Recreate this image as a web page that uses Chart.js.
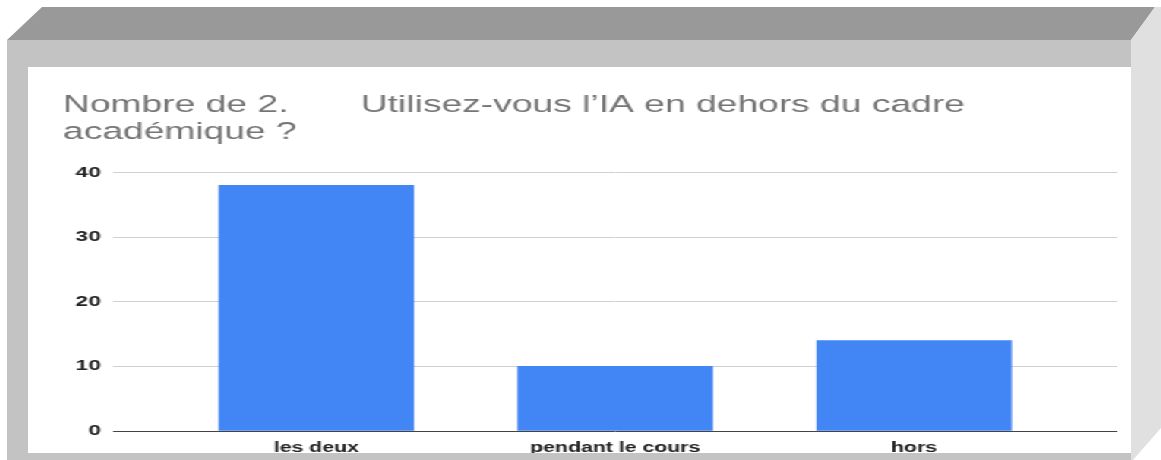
<!DOCTYPE html>
<html>
<head>
<meta charset="utf-8">
<script src="https://cdn.jsdelivr.net/npm/chart.js@4.4.1/dist/chart.umd.min.js"></script>
<style>
  html, body { margin: 0; padding: 0; background: #ffffff; width: 1161px; height: 460px; overflow: hidden; position: relative; }
  .shape { position: absolute; }
  #topDark { left: 0; top: 0; width: 1161px; height: 460px; background: #999999;
    clip-path: polygon(42px 7px, 1155px 7px, 1131px 40px, 7px 40px); }
  #rightSide { left: 0; top: 0; width: 1161px; height: 460px; background: #e0e0e0;
    clip-path: polygon(1155px 7px, 1161px 7px, 1161px 428px, 1133px 460px, 1131px 460px, 1131px 40px); }
  #topMid { left: 7px; top: 40px; width: 1124px; height: 27px; background: #c3c3c3; }
  #leftMid { left: 7px; top: 40px; width: 21px; height: 420px; background: #c3c3c3; }
  #bottomMid { left: 7px; top: 453px; width: 1124px; height: 7px; background: #c3c3c3; z-index: 5; }
  #chartBox { position: absolute; left: 28px; top: 67px; width: 726px; height: 393px;
    transform: scaleX(1.5193); transform-origin: 0 0; background: #ffffff; }
</style>
</head>
<body>
<div class="shape" id="topDark"></div>
<div class="shape" id="rightSide"></div>
<div class="shape" id="topMid"></div>
<div class="shape" id="leftMid"></div>
<div id="chartBox"><canvas id="c"></canvas></div>
<div class="shape" id="bottomMid"></div>
<script>
const categories = ['les deux', 'pendant le cours', 'hors'];
const counts = [38, 10, 14];
const yTickValues = [0, 10, 20, 30, 40];
const titleLines = ['Nombre de 2.       Utilisez-vous l\u2019IA en dehors du cadre', 'académique ?'];

const ctx = document.getElementById('c');
new Chart(ctx, {
  type: 'bar',
  data: {
    datasets: [{
      data: categories.map((c, i) => ({ x: i, y: counts[i] })),
      backgroundColor: '#4285f4',
      borderWidth: 0,
      barThickness: 128
    }]
  },
  options: {
    responsive: true,
    maintainAspectRatio: false,
    animation: false,
    devicePixelRatio: 1,
    layout: { padding: { left: 23, right: 9, top: 0, bottom: 0 } },
    plugins: {
      legend: { display: false },
      tooltip: { enabled: false },
      title: {
        display: true,
        text: titleLines,
        align: 'start',
        color: '#757575',
        font: { family: "'Liberation Sans', Arial, sans-serif", size: 24.5, weight: 'normal', lineHeight: 1.13 },
        padding: { top: 24, bottom: 26 }
      }
    },
    scales: {
      x: {
        type: 'linear',
        offset: false,
        min: -0.68,
        max: 2.68,
        bounds: 'ticks',
        afterBuildTicks: (scale) => { scale.ticks = categories.map((c, i) => ({ value: i })); },
        afterFit: (scale) => { scale.height = 29; },
        ticks: {
          callback: (v) => categories[v],
          color: '#222222',
          font: { family: "'Liberation Sans', Arial, sans-serif", size: 14, weight: 'bold' },
          padding: 1,
          maxRotation: 0,
          autoSkip: false
        },
        grid: { display: false, offset: false },
        border: { display: false }
      },
      y: {
        min: 0,
        max: 40,
        afterBuildTicks: (scale) => { scale.ticks = yTickValues.map(v => ({ value: v })); },
        afterFit: (scale) => { scale.width = 33; },
        ticks: {
          color: '#222222',
          font: { family: "'Liberation Sans', Arial, sans-serif", size: 15, weight: 'bold' },
          padding: 8
        },
        grid: {
          drawTicks: false,
          color: (c) => c.tick && c.tick.value === 0 ? '#444444' : '#d0d0d0',
          lineWidth: 1
        },
        border: { display: false }
      }
    }
  }
});
</script>
</body>
</html>
